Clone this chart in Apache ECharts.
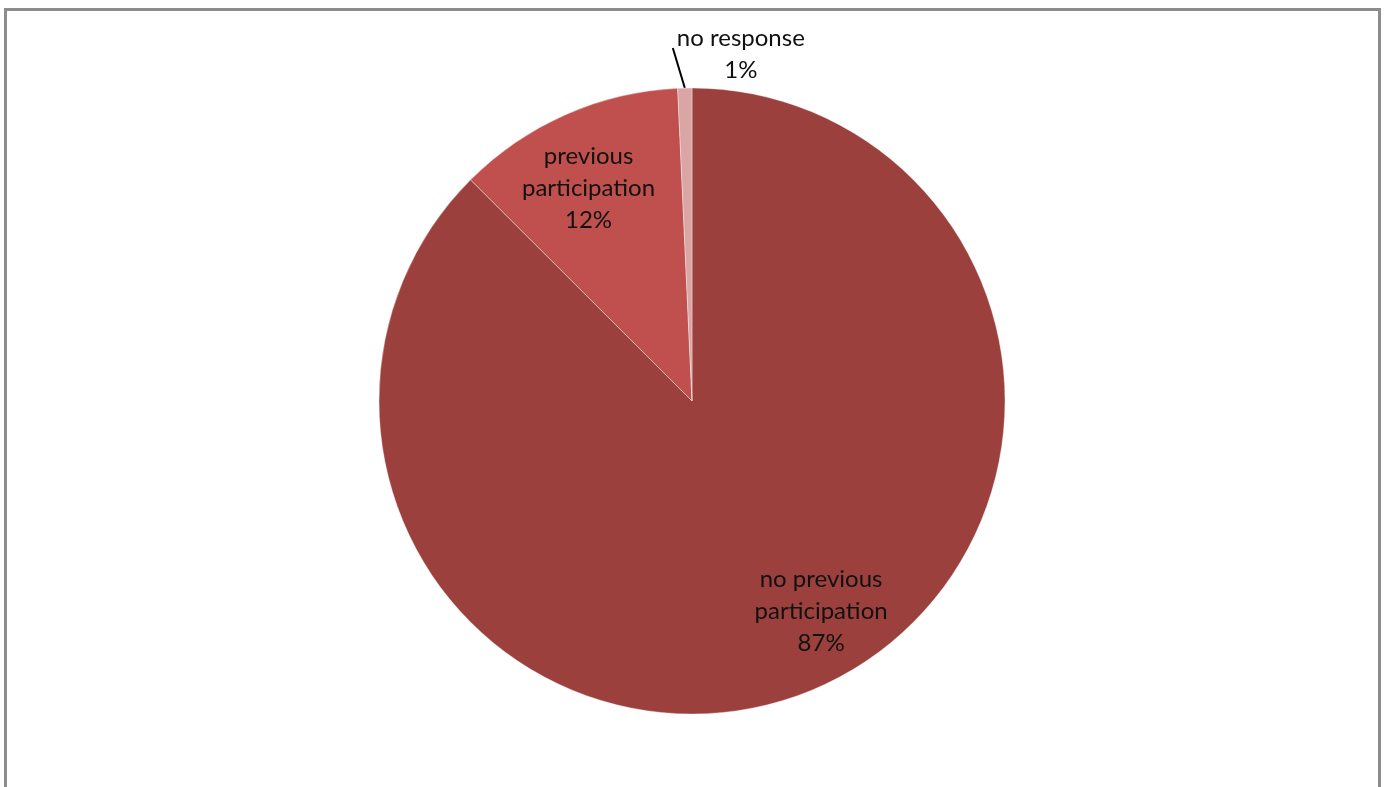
<!DOCTYPE html>
<html>
<head>
<meta charset="utf-8">
<script src="https://cdn.jsdelivr.net/npm/echarts@6/dist/echarts.min.js"></script>
<style>
  html, body { margin: 0; padding: 0; background: #fff; overflow: hidden; }
  #frame { position: absolute; left: 4px; top: 8px; width: 1371px; height: 800px; border: 3px solid #8c8c8c; box-sizing: content-box; }
  #chart { position: absolute; left: 0; top: 0; width: 1387px; height: 787px; }
</style>
</head>
<body>
<div id="frame"></div>
<div id="chart"></div>
<script>
const categories = ['no previous participation', 'previous participation', 'no response'];
const shares = [87.49, 11.78, 0.73];
const sliceColors = ['#9c403e', '#c0504d', '#d9a6a5'];

const chart = echarts.init(document.getElementById('chart'), null, { renderer: 'canvas' });

const data = categories.map((c, i) => ({
  name: c,
  value: shares[i],
  itemStyle: { color: sliceColors[i] },
  label: i === 2 ? { position: 'outside' } : { position: 'inside' },
  labelLine: { show: i === 2 }
}));

// label offsets relative to default placement (inside at mid-radius)
const insideShift = [[68, 63], [-39, -67]];

chart.setOption({
  animation: false,
  series: [{
    type: 'pie',
    center: [692, 401],
    radius: 313,
    startAngle: 90,
    clockwise: true,
    avoidLabelOverlap: false,
    itemStyle: { borderColor: 'rgba(255,255,255,0.35)', borderWidth: 1 },
    label: {
      show: true,
      fontFamily: 'Lato',
      fontSize: 24,
      lineHeight: 32,
      color: '#111',
      align: 'center',
      formatter: function (p) {
        let nameLines;
        if (p.name === 'no previous participation') nameLines = 'no previous\nparticipation';
        else if (p.name === 'previous participation') nameLines = 'previous\nparticipation';
        else nameLines = p.name;
        return nameLines + '\n' + Math.round(p.percent) + '%';
      }
    },
    labelLine: {
      show: true,
      lineStyle: { color: '#000', width: 2 },
      length: 20,
      length2: 0
    },
    labelLayout: function (params) {
      const i = params.dataIndex;
      if (i < 2) {
        return { dx: insideShift[i][0], dy: insideShift[i][1] };
      }
      const pts = params.labelLinePoints;
      const s = pts[0];
      const end = [s[0] - 12, s[1] - 40];
      return {
        x: s[0] + 56,
        y: s[1] - 34,
        align: 'center',
        verticalAlign: 'middle',
        labelLinePoints: [s, end, end]
      };
    },
    data: data
  }]
});
</script>
</body>
</html>
